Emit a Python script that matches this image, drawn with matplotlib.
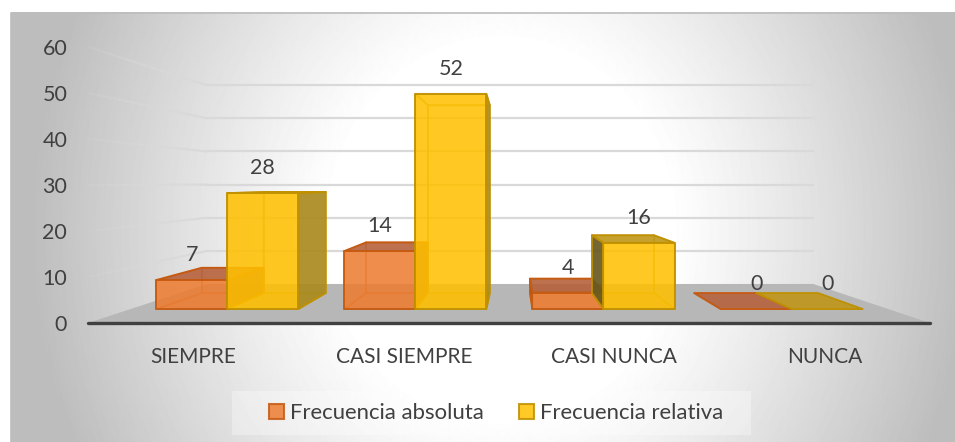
import numpy as np
import matplotlib.pyplot as plt
from matplotlib.collections import LineCollection
from matplotlib.colors import to_rgb, to_rgba
from matplotlib.patches import Patch, Polygon, Rectangle

categorias = ["SIEMPRE", "CASI SIEMPRE", "CASI NUNCA", "NUNCA"]
absoluta = [7, 14, 4, 0]
relativa = [28, 52, 16, 0]
ticks_y = [0, 10, 20, 30, 40, 50, 60]

W, H = 955, 442

# perspective: s is the scale of a plane, 1 at the front edge of the floor
xv, yv = 2.02, 30.3
S_FOND = 0.72
S_AV = 0.90
S_AR = 0.785
ANCHO = 0.375
PASO = 0.993


def proj(c, v, s):
    return xv + (c - xv) * s, yv + (v - yv) * s


def caja(ax, x0, x1, v, col, borde, col_top, col_lado_d, col_lado_i, z):
    a = [proj(x0, 0, S_AV), proj(x1, 0, S_AV), proj(x1, v, S_AV), proj(x0, v, S_AV)]
    b = [proj(x0, 0, S_AR), proj(x1, 0, S_AR), proj(x1, v, S_AR), proj(x0, v, S_AR)]
    debil = to_rgba(borde, 0.4)
    caras = []
    if v > 0:
        # inner faces first, seen through the front
        caras.append((b, col, 0.12, debil))
        caras.append(([a[0], a[1], b[1], b[0]], col, 0.25, debil))
        if x1 >= xv:
            caras.append(([a[1], a[2], b[2], b[1]], col, 0.12, debil))
        else:
            caras.append(([a[0], a[3], b[3], b[0]], col, 0.12, debil))
        if x1 < xv:
            caras.append(([a[1], a[2], b[2], b[1]], col_lado_d, 0.9, borde))
        if x0 > xv:
            caras.append(([a[0], a[3], b[3], b[0]], col_lado_i, 0.9, borde))
    if v < yv:
        caras.append(([a[3], a[2], b[2], b[3]], col_top, 0.88, borde))
    else:
        caras.append(([a[3], a[2], b[2], b[3]], col, 0.12, debil))
    if v > 0:
        caras.append((a, col, 0.85, borde))
    for i, (pts, fc, al, ec) in enumerate(caras):
        r, g, bl = to_rgb(fc)
        ax.add_patch(Polygon(pts, closed=True, facecolor=(r, g, bl, al), edgecolor=ec,
                             lw=1.3, joinstyle="round", clip_on=False, zorder=z + i * 0.01))


plt.rcParams["font.family"] = ["Lato", "DejaVu Sans"]
fig = plt.figure(figsize=(W / 100, H / 100), dpi=100, facecolor="white")

# ---------- background of the chart area
bg = fig.add_axes([0, 0, 1, 1], zorder=0)
yy, xx = np.mgrid[0:H, 0:W]
t = np.sqrt(((xx - 500) / 470.0) ** 2 + ((yy - 230) / 520.0) ** 2)
gris = np.clip(1.0 - np.clip((t - 0.36) / 0.64, 0, 1) ** 1.1 * 0.26, 0, 1)
bg.imshow(gris, cmap="gray", vmin=0, vmax=1, extent=(0, W, H, 0), aspect="auto")
bg.add_patch(Polygon([(0, 0), (W, 0), (W, 12), (0, 12)], fc="white", ec="none"))
bg.add_patch(Polygon([(0, 0), (10.5, 0), (10.5, H), (0, H)], fc="white", ec="none"))
bg.plot([10.5, 10.5, W], [H, 13, 13], color="#bdbdbd", lw=1.2)
bg.add_patch(Rectangle((232, 391), 519, 44, fc="white", ec="none", alpha=0.32))
bg.set_xlim(0, W)
bg.set_ylim(H, 0)
bg.axis("off")

# ---------- chart, axes = front plane of the floor
ax = fig.add_axes([88 / W, 1 - 323 / H, (930 - 88) / W, (323 - 47) / H], zorder=1)
ax.patch.set_visible(False)
ax.set_xlim(0, 4)
ax.set_ylim(0, 60)
for lado in ["top", "left", "right"]:
    ax.spines[lado].set_visible(False)
ax.spines["bottom"].set_color("#404040")
ax.spines["bottom"].set_linewidth(2.4)
ax.spines["bottom"].set_capstyle("round")
ax.spines["bottom"].set_zorder(3)

ax.set_yticks(ticks_y)
ax.set_xticks(np.arange(len(categorias)) + 0.5)
ax.set_xticklabels(categorias)
ax.tick_params(axis="y", length=0, pad=15, labelsize=15.5, labelcolor="#404040")
ax.tick_params(axis="x", length=0, pad=17, labelsize=15, labelcolor="#404040")

# floor
ax.add_patch(Polygon([proj(0, 0, 1), proj(4, 0, 1), proj(4, 0, S_FOND), proj(0, 0, S_FOND)],
                     fc="#b7b7b7", ec="none", clip_on=False, zorder=1))

# gridlines: back wall + left wall fading towards the front
for v in ticks_y[1:]:
    x, y = zip(proj(0, v, S_FOND), proj(4, v, S_FOND))
    ax.plot(x, y, color="#d9d9d9", lw=1.6, clip_on=False, zorder=0.5)
    ss = np.linspace(1, S_FOND, 30)
    pts = np.array([proj(0, v, s) for s in ss])
    segs = np.stack([pts[:-1], pts[1:]], axis=1)
    cols = [(0.85, 0.85, 0.85, a) for a in np.linspace(0.15, 1, len(segs))]
    ax.add_collection(LineCollection(segs, colors=cols, linewidths=1.6, clip_on=False, zorder=0.5))

# bars
for i in range(len(categorias)):
    xc = 2 + (i + 0.5 - 2) * PASO
    caja(ax, xc - ANCHO, xc, absoluta[i], "#ED7D31", "#C55A11", "#B5603A", "#A8562C", "#7a3d1c", 2)
    caja(ax, xc, xc + ANCHO, relativa[i], "#FFC000", "#BF9000", "#BF9515", "#A98A1E", "#65571f", 2.5)
    for c, v in [(xc - ANCHO / 2, absoluta[i]), (xc + ANCHO / 2, relativa[i])]:
        ax.annotate(str(v), xy=proj(c, v, S_AV), xytext=(0, 18), textcoords="offset points",
                    ha="center", va="center", fontsize=15.5, color="#404040", zorder=5,
                    annotation_clip=False)

# legend
handles = [Patch(fc="#ED7D31", ec="#C55A11", lw=1.5, alpha=0.85, label="Frecuencia absoluta"),
           Patch(fc="#FFC000", ec="#BF9000", lw=1.5, alpha=0.85, label="Frecuencia relativa")]
leg = fig.legend(handles=handles, loc="center", bbox_to_anchor=(496 / W, 1 - 413 / H), ncol=2,
                 fontsize=15.9, frameon=False, handlelength=0.68, handleheight=0.68,
                 handletextpad=0.25, columnspacing=1.6, borderpad=0, borderaxespad=0,
                 labelcolor="#404040")
leg.set_zorder(4)

fig.savefig("out.png", dpi=100)
